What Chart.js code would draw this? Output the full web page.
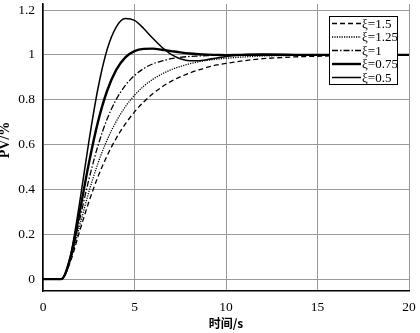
<!DOCTYPE html>
<html>
<head>
<meta charset="utf-8">
<script src="https://cdn.jsdelivr.net/npm/chart.js@4.4.1/dist/chart.umd.min.js"></script>
<style>
  html, body { margin: 0; padding: 0; background: #fff; }
  #wrap { width: 420px; height: 333px; }
</style>
</head>
<body>
<div id="wrap"><canvas id="chart"></canvas></div>
<script>
// time axis (s)
const times = [0, 1, 1.5, 2, 2.5, 3, 3.5, 4, 4.5, 5, 5.5, 6, 6.5, 7, 7.5, 8, 8.5, 9, 9.5, 10,
               11, 12, 13, 14, 15, 16, 17, 18, 19, 20];

// PV (%)
const xi15  = [0, 0, 0.079, 0.213, 0.343, 0.456, 0.550, 0.628, 0.692, 0.746, 0.790, 0.827, 0.857, 0.882, 0.902, 0.919, 0.933, 0.945, 0.955, 0.962,
               0.974, 0.983, 0.988, 0.992, 0.994, 0.996, 0.997, 0.998, 0.999, 0.999];
const xi125 = [0, 0, 0.084, 0.236, 0.387, 0.516, 0.620, 0.703, 0.769, 0.820, 0.860, 0.891, 0.915, 0.934, 0.948, 0.960, 0.969, 0.976, 0.981, 0.985,
               0.991, 0.995, 0.997, 0.998, 0.999, 0.999, 1, 1, 1, 1];
const xi1   = [0, 0, 0.090, 0.264, 0.442, 0.594, 0.713, 0.801, 0.864, 0.908, 0.939, 0.960, 0.973, 0.983, 0.989, 0.993, 0.995, 0.997, 0.998, 0.999,
               1, 1, 1, 1, 1, 1, 1, 1, 1, 1];
const xi075 = [0, 0, 0.097, 0.298, 0.514, 0.700, 0.839, 0.933, 0.989, 1.017, 1.027, 1.028, 1.023, 1.017, 1.011, 1.006, 1.003, 1.001, 1.000, 0.999,
               1, 1, 1, 1, 1, 1, 1, 1, 1, 1];
const xi05  = [0, 0, 0.104, 0.340, 0.610, 0.849, 1.023, 1.124, 1.162, 1.154, 1.118, 1.074, 1.034, 1.002, 0.983, 0.974, 0.974, 0.979, 0.986, 0.993,
               1.002, 1.004, 1.003, 1.000, 0.999, 1, 1, 1, 1, 1];

const seriesLabels = ["ξ=1.5", "ξ=1.25", "ξ=1", "ξ=0.75", "ξ=0.5"];
const xTicks = [0, 5, 10, 15, 20];
const yTicks = [0, 0.2, 0.4, 0.6, 0.8, 1, 1.2];

const SERIF = "'Liberation Serif', 'Times New Roman', serif";

function pts(vals) {
    return times.map((t, i) => ({ x: t, y: vals[i] }));
}

const styles = [
    { borderWidth: 1.3, borderDash: [5, 3] },
    { borderWidth: 1.3, borderDash: [1.2, 1.2] },
    { borderWidth: 1.3, borderDash: [6, 2, 1.5, 2] },
    { borderWidth: 2.4, borderDash: [] },
    { borderWidth: 1.5, borderDash: [] }
];

const datasets = [xi15, xi125, xi1, xi075, xi05].map((vals, i) => ({
    label: seriesLabels[i],
    data: pts(vals),
    borderColor: "#000",
    borderWidth: styles[i].borderWidth,
    borderDash: styles[i].borderDash,
    pointRadius: 0,
    fill: false,
    cubicInterpolationMode: "monotone"
}));

// --- boxed legend inside the plot + rotated y title ---
const extras = {
    id: "extras",
    afterDraw(chart) {
        const ctx = chart.ctx;
        ctx.save();
        // legend box
        const bx = 329.5, by = 16.5, bw = 68, bh = 68;
        ctx.fillStyle = "#fff";
        ctx.fillRect(bx, by, bw, bh);
        ctx.strokeStyle = "#000";
        ctx.lineWidth = 1;
        ctx.setLineDash([]);
        ctx.strokeRect(bx, by, bw, bh);

        ctx.font = "13px " + SERIF;
        ctx.textBaseline = "middle";
        ctx.textAlign = "left";
        chart.data.datasets.forEach((ds, i) => {
            const y = 23.5 + i * 13.5;
            ctx.beginPath();
            ctx.setLineDash(ds.borderDash);
            ctx.lineWidth = ds.borderWidth;
            ctx.strokeStyle = "#000";
            ctx.moveTo(332, y);
            ctx.lineTo(361, y);
            ctx.stroke();
            ctx.setLineDash([]);
            ctx.fillStyle = "#000";
            ctx.fillText(ds.label, 362, y + 1);
        });

        // y axis title (sits half off the left edge, as in the source)
        ctx.translate(9, 140);
        ctx.rotate(-Math.PI / 2);
        ctx.textAlign = "center";
        ctx.textBaseline = "alphabetic";
        ctx.font = "bold 14px " + SERIF;
        ctx.fillText("PV/%", 0, 0);
        ctx.restore();
    }
};

new Chart(document.getElementById("chart"), {
    type: "line",
    data: { datasets: datasets },
    options: {
        responsive: true,
        maintainAspectRatio: false,
        animation: false,
        layout: { padding: { left: 0, right: 11, top: 4, bottom: 0 } },
        plugins: { legend: { display: false }, tooltip: { enabled: false } },
        scales: {
            x: {
                type: "linear",
                min: 0,
                max: 20,
                afterFit: s => { s.height = 42; s.paddingLeft = 0; s.paddingRight = 0; },
                afterBuildTicks: s => { s.ticks = xTicks.map(v => ({ value: v })); },
                grid: { color: "#999", lineWidth: 1, drawTicks: false },
                border: { color: "#000", width: 1.5 },
                ticks: { color: "#000", padding: 8, font: { family: SERIF, size: 13.5 }, callback: v => String(v) },
                title: {
                    display: true,
                    text: "时间/s",
                    color: "#000",
                    padding: { top: 0, bottom: 2 },
                    font: { family: "'Noto Sans CJK SC', sans-serif", size: 12, weight: "bold" }
                }
            },
            y: {
                min: -0.053,
                max: 1.227,
                afterFit: s => { s.width = 43; s.paddingTop = 0; s.paddingBottom = 0; },
                afterBuildTicks: s => { s.ticks = yTicks.map(v => ({ value: v })); },
                grid: { color: "#999", lineWidth: 1, drawTicks: false },
                border: { color: "#000", width: 1.5 },
                ticks: { color: "#000", padding: 8, font: { family: SERIF, size: 13.5 }, callback: v => String(v) }
            }
        }
    },
    plugins: [extras]
});
</script>
</body>
</html>
